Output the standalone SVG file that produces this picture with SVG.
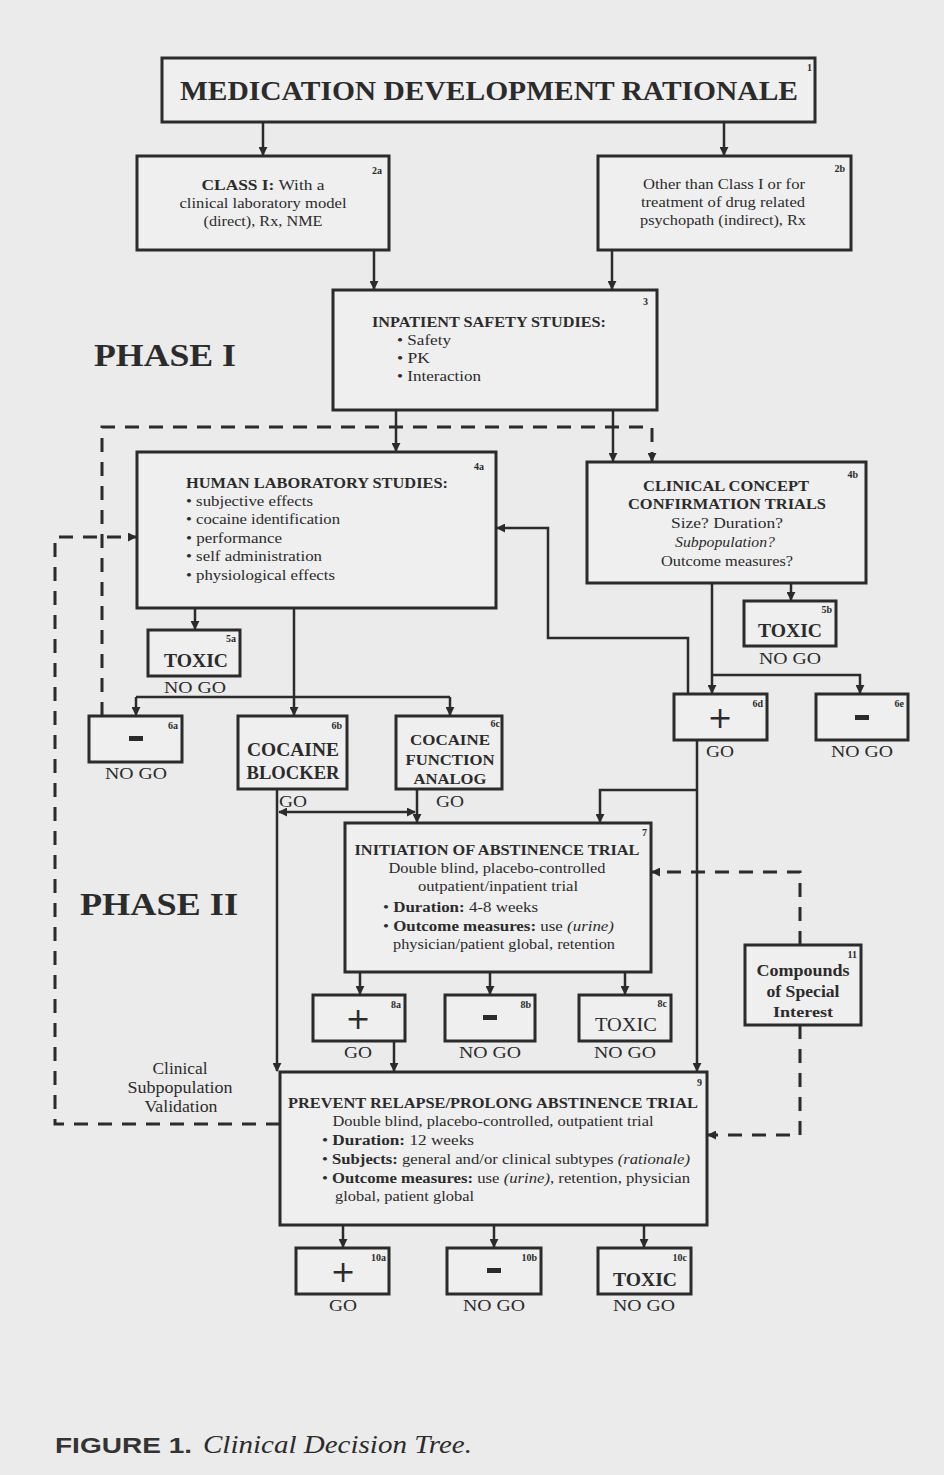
<svg xmlns="http://www.w3.org/2000/svg" width="944" height="1475" viewBox="0 0 944 1475">
<defs>
<marker id="ah" viewBox="0 0 10 10" refX="9" refY="5" markerWidth="9" markerHeight="9" markerUnits="userSpaceOnUse" orient="auto-start-reverse">
<path d="M0,0 L10,5 L0,10 Z" fill="#2b2b2b"/>
</marker>
<style>
.bx{fill:#efefef;stroke:#2b2b2b;stroke-width:3}
.t{font-family:"Liberation Serif","Times New Roman",serif;fill:#2b2b2b}
.c{text-anchor:middle}
.b{font-weight:bold}
.s{font-size:15px}
.n{font-size:10px;font-weight:bold;text-anchor:end}
.big{font-size:18px;font-weight:bold;text-anchor:middle}
.lbl{font-size:17px;text-anchor:middle}
.ln{fill:none;stroke:#2b2b2b;stroke-width:2.5}
.dl{fill:none;stroke:#2b2b2b;stroke-width:3;stroke-dasharray:14 10}
.sym{font-family:"DejaVu Sans",sans-serif;fill:#2b2b2b;text-anchor:middle;font-size:30px}
</style>
</defs>
<rect width="944" height="1475" fill="#ebebeb"/>

<g id="connectors">
<path class="ln" d="M263,122 V155" marker-end="url(#ah)"/>
<path class="ln" d="M724,122 V155" marker-end="url(#ah)"/>
<path class="ln" d="M374,250 V289" marker-end="url(#ah)"/>
<path class="ln" d="M612,250 V289" marker-end="url(#ah)"/>
<path class="ln" d="M396,410 V451" marker-end="url(#ah)"/>
<path class="ln" d="M613,410 V461" marker-end="url(#ah)"/>
<path class="ln" d="M195,608 V629" marker-end="url(#ah)"/>
<path class="ln" d="M294,608 V715" marker-end="url(#ah)"/>
<path class="ln" d="M136,697 H450"/>
<path class="ln" d="M136,697 V715" marker-end="url(#ah)"/>
<path class="ln" d="M450,697 V715" marker-end="url(#ah)"/>
<path class="ln" d="M791,583 V600" marker-end="url(#ah)"/>
<path class="ln" d="M712,583 V693" marker-end="url(#ah)"/>
<path class="ln" d="M712,675 H860 V693" marker-end="url(#ah)"/>
<path class="ln" d="M688,694 V638 H548 V528 H497" marker-end="url(#ah)"/>
<path class="ln" d="M697,740 V1071" marker-end="url(#ah)"/>
<path class="ln" d="M697,790 H600 V822" marker-end="url(#ah)"/>
<path class="ln" d="M277,789 V1071" marker-end="url(#ah)"/>
<path class="ln" d="M417,789 V822" marker-end="url(#ah)"/>
<path class="ln" d="M279,812 H415" marker-start="url(#ah)" marker-end="url(#ah)"/>
<path class="ln" d="M360,972 V994" marker-end="url(#ah)"/>
<path class="ln" d="M490,972 V994" marker-end="url(#ah)"/>
<path class="ln" d="M625,972 V994" marker-end="url(#ah)"/>
<path class="ln" d="M394,1041 V1071" marker-end="url(#ah)"/>
<path class="ln" d="M343,1225 V1247" marker-end="url(#ah)"/>
<path class="ln" d="M494,1225 V1247" marker-end="url(#ah)"/>
<path class="ln" d="M644,1225 V1247" marker-end="url(#ah)"/>
<path class="dl" d="M280,1124 H55 V537 H136" marker-end="url(#ah)"/>
<path class="dl" d="M102,716 V427 H652 V461" marker-end="url(#ah)"/>
<path class="dl" d="M800,945 V872 H652" marker-end="url(#ah)"/>
<path class="dl" d="M800,1025 V1135 H708" marker-end="url(#ah)"/>
</g>

<g id="n1">
<rect class="bx" x="162" y="58" width="653" height="64"/>
<text class="t b c" x="489" y="100" font-size="28" textLength="618" lengthAdjust="spacingAndGlyphs">MEDICATION DEVELOPMENT RATIONALE</text>
<text class="t n" x="812" y="71">1</text>
</g>
<g id="n2a">
<rect class="bx" x="137" y="156" width="252" height="94"/>
<text class="t s c" x="263" y="190" textLength="123" lengthAdjust="spacingAndGlyphs"><tspan class="b">CLASS I:</tspan>  With a</text>
<text class="t s c" x="263" y="208" textLength="167" lengthAdjust="spacingAndGlyphs">clinical laboratory model</text>
<text class="t s c" x="263" y="226" textLength="119" lengthAdjust="spacingAndGlyphs">(direct), Rx, NME</text>
<text class="t n" x="382" y="174">2a</text>
</g>
<g id="n2b">
<rect class="bx" x="598" y="156" width="253" height="94"/>
<text class="t s c" x="724" y="189" textLength="162" lengthAdjust="spacingAndGlyphs">Other than Class I or for</text>
<text class="t s c" x="723" y="207" textLength="164" lengthAdjust="spacingAndGlyphs">treatment of drug related</text>
<text class="t s c" x="723" y="225" textLength="166" lengthAdjust="spacingAndGlyphs">psychopath (indirect), Rx</text>
<text class="t n" x="845" y="172">2b</text>
</g>
<g id="n3">
<rect class="bx" x="333" y="290" width="324" height="120"/>
<text class="t b" x="372" y="327" font-size="14" textLength="234" lengthAdjust="spacingAndGlyphs">INPATIENT SAFETY STUDIES:</text>
<text class="t s" x="397" y="345" textLength="54" lengthAdjust="spacingAndGlyphs">• Safety</text>
<text class="t s" x="397" y="363" textLength="33" lengthAdjust="spacingAndGlyphs">• PK</text>
<text class="t s" x="397" y="381" textLength="84" lengthAdjust="spacingAndGlyphs">• Interaction</text>
<text class="t n" x="648" y="305">3</text>
</g>
<text class="t b" x="94" y="366" font-size="32" textLength="142" lengthAdjust="spacingAndGlyphs">PHASE I</text>
<g id="n4a">
<rect class="bx" x="137" y="452" width="359" height="156"/>
<text class="t b" x="186" y="488" font-size="14" textLength="262" lengthAdjust="spacingAndGlyphs">HUMAN LABORATORY STUDIES:</text>
<text class="t s" x="186" y="506" textLength="127" lengthAdjust="spacingAndGlyphs">• subjective effects</text>
<text class="t s" x="186" y="524" textLength="154" lengthAdjust="spacingAndGlyphs">• cocaine identification</text>
<text class="t s" x="186" y="543" textLength="96" lengthAdjust="spacingAndGlyphs">• performance</text>
<text class="t s" x="186" y="561" textLength="136" lengthAdjust="spacingAndGlyphs">• self administration</text>
<text class="t s" x="186" y="580" textLength="149" lengthAdjust="spacingAndGlyphs">• physiological effects</text>
<text class="t n" x="484" y="470">4a</text>
</g>
<g id="n4b">
<rect class="bx" x="587" y="462" width="279" height="121"/>
<text class="t b c" x="726" y="491" font-size="15" textLength="166" lengthAdjust="spacingAndGlyphs">CLINICAL CONCEPT</text>
<text class="t b c" x="727" y="509" font-size="15" textLength="198" lengthAdjust="spacingAndGlyphs">CONFIRMATION TRIALS</text>
<text class="t s c" x="727" y="528" textLength="112" lengthAdjust="spacingAndGlyphs">Size?  Duration?</text>
<text class="t s c" x="725" y="547" font-style="italic" textLength="100" lengthAdjust="spacingAndGlyphs">Subpopulation?</text>
<text class="t s c" x="727" y="566" textLength="132" lengthAdjust="spacingAndGlyphs">Outcome measures?</text>
<text class="t n" x="858" y="478">4b</text>
</g>
<g id="n5a">
<rect class="bx" x="148" y="630" width="92" height="46"/>
<text class="t big" x="196" y="667" textLength="64" lengthAdjust="spacingAndGlyphs">TOXIC</text>
<text class="t n" x="236" y="642">5a</text>
<text class="t lbl" x="195" y="693" textLength="62" lengthAdjust="spacingAndGlyphs">NO GO</text>
</g>
<g id="n5b">
<rect class="bx" x="744" y="601" width="92" height="45"/>
<text class="t big" x="790" y="637" textLength="64" lengthAdjust="spacingAndGlyphs">TOXIC</text>
<text class="t n" x="832" y="613">5b</text>
<text class="t lbl" x="790" y="664" textLength="62" lengthAdjust="spacingAndGlyphs">NO GO</text>
</g>
<g id="n6a">
<rect class="bx" x="89" y="716" width="93" height="46"/>
<rect x="129" y="736" width="14" height="5" fill="#2b2b2b"/>
<text class="t n" x="178" y="729">6a</text>
<text class="t lbl" x="136" y="779" textLength="62" lengthAdjust="spacingAndGlyphs">NO GO</text>
</g>
<g id="n6b">
<rect class="bx" x="238" y="716" width="109" height="73"/>
<text class="t big" x="293" y="756" textLength="92" lengthAdjust="spacingAndGlyphs">COCAINE</text>
<text class="t big" x="293" y="779" textLength="93" lengthAdjust="spacingAndGlyphs">BLOCKER</text>
<text class="t n" x="342" y="729">6b</text>
<text class="t lbl" x="293" y="807" textLength="28" lengthAdjust="spacingAndGlyphs">GO</text>
</g>
<g id="n6c">
<rect class="bx" x="396" y="716" width="106" height="73"/>
<text class="t b c" x="450" y="745" font-size="15" textLength="80" lengthAdjust="spacingAndGlyphs">COCAINE</text>
<text class="t b c" x="450" y="765" font-size="15" textLength="89" lengthAdjust="spacingAndGlyphs">FUNCTION</text>
<text class="t b c" x="450" y="784" font-size="15" textLength="73" lengthAdjust="spacingAndGlyphs">ANALOG</text>
<text class="t n" x="500" y="727">6c</text>
<text class="t lbl" x="450" y="807" textLength="28" lengthAdjust="spacingAndGlyphs">GO</text>
</g>
<g id="n6d">
<rect class="bx" x="674" y="694" width="93" height="46"/>
<text class="sym" x="720" y="728">+</text>
<text class="t n" x="763" y="707">6d</text>
<text class="t lbl" x="720" y="757" textLength="28" lengthAdjust="spacingAndGlyphs">GO</text>
</g>
<g id="n6e">
<rect class="bx" x="816" y="694" width="92" height="46"/>
<rect x="855" y="715" width="14" height="5" fill="#2b2b2b"/>
<text class="t n" x="904" y="707">6e</text>
<text class="t lbl" x="862" y="757" textLength="62" lengthAdjust="spacingAndGlyphs">NO GO</text>
</g>
<text class="t b" x="80" y="915" font-size="32" textLength="158" lengthAdjust="spacingAndGlyphs">PHASE II</text>
<g id="n7">
<rect class="bx" x="345" y="823" width="306" height="149"/>
<text class="t b c" x="497" y="855" font-size="14" textLength="285" lengthAdjust="spacingAndGlyphs">INITIATION OF ABSTINENCE TRIAL</text>
<text class="t s c" x="497" y="873" textLength="217" lengthAdjust="spacingAndGlyphs">Double blind, placebo-controlled</text>
<text class="t s c" x="498" y="891" textLength="160" lengthAdjust="spacingAndGlyphs">outpatient/inpatient trial</text>
<text class="t s" x="383" y="912" textLength="155" lengthAdjust="spacingAndGlyphs">• <tspan class="b">Duration:</tspan>  4-8 weeks</text>
<text class="t s" x="383" y="931" textLength="231" lengthAdjust="spacingAndGlyphs">• <tspan class="b">Outcome measures:</tspan>  use <tspan font-style="italic">(urine)</tspan></text>
<text class="t s" x="393" y="949" textLength="222" lengthAdjust="spacingAndGlyphs">physician/patient global, retention</text>
<text class="t n" x="647" y="836">7</text>
</g>
<g id="n8a">
<rect class="bx" x="313" y="995" width="92" height="46"/>
<text class="sym" x="358" y="1029">+</text>
<text class="t n" x="401" y="1008">8a</text>
<text class="t lbl" x="358" y="1058" textLength="28" lengthAdjust="spacingAndGlyphs">GO</text>
</g>
<g id="n8b">
<rect class="bx" x="445" y="995" width="90" height="46"/>
<rect x="483" y="1015" width="14" height="5" fill="#2b2b2b"/>
<text class="t n" x="531" y="1008">8b</text>
<text class="t lbl" x="490" y="1058" textLength="62" lengthAdjust="spacingAndGlyphs">NO GO</text>
</g>
<g id="n8c">
<rect class="bx" x="579" y="995" width="92" height="46"/>
<text class="t c" x="626" y="1031" font-size="19" textLength="62" lengthAdjust="spacingAndGlyphs">TOXIC</text>
<text class="t n" x="667" y="1007">8c</text>
<text class="t lbl" x="625" y="1058" textLength="62" lengthAdjust="spacingAndGlyphs">NO GO</text>
</g>
<g id="n11">
<rect class="bx" x="745" y="945" width="116" height="80"/>
<text class="t b c" x="803" y="976" font-size="16" textLength="93" lengthAdjust="spacingAndGlyphs">Compounds</text>
<text class="t b c" x="803" y="997" font-size="16" textLength="73" lengthAdjust="spacingAndGlyphs">of Special</text>
<text class="t b c" x="803" y="1017" font-size="14" textLength="60" lengthAdjust="spacingAndGlyphs">Interest</text>
<text class="t n" x="857" y="958">11</text>
</g>
<text class="t lbl" x="180" y="1074" textLength="55" lengthAdjust="spacingAndGlyphs">Clinical</text>
<text class="t lbl" x="180" y="1093" textLength="105" lengthAdjust="spacingAndGlyphs">Subpopulation</text>
<text class="t lbl" x="181" y="1112" textLength="73" lengthAdjust="spacingAndGlyphs">Validation</text>
<g id="n9">
<rect class="bx" x="280" y="1072" width="427" height="153"/>
<text class="t b c" x="493" y="1108" font-size="14" textLength="410" lengthAdjust="spacingAndGlyphs">PREVENT RELAPSE/PROLONG ABSTINENCE TRIAL</text>
<text class="t s c" x="493" y="1126" textLength="321" lengthAdjust="spacingAndGlyphs">Double blind, placebo-controlled, outpatient trial</text>
<text class="t s" x="322" y="1145" textLength="152" lengthAdjust="spacingAndGlyphs">• <tspan class="b">Duration:</tspan>  12 weeks</text>
<text class="t s" x="322" y="1164" textLength="368" lengthAdjust="spacingAndGlyphs">• <tspan class="b">Subjects:</tspan>  general and/or clinical subtypes <tspan font-style="italic">(rationale)</tspan></text>
<text class="t s" x="322" y="1183" textLength="368" lengthAdjust="spacingAndGlyphs">• <tspan class="b">Outcome measures:</tspan>  use <tspan font-style="italic">(urine)</tspan>, retention, physician</text>
<text class="t s" x="335" y="1201" textLength="139" lengthAdjust="spacingAndGlyphs">global, patient global</text>
<text class="t n" x="702" y="1086">9</text>
</g>
<g id="n10a">
<rect class="bx" x="296" y="1248" width="93" height="46"/>
<text class="sym" x="343" y="1282">+</text>
<text class="t n" x="386" y="1261">10a</text>
<text class="t lbl" x="343" y="1311" textLength="28" lengthAdjust="spacingAndGlyphs">GO</text>
</g>
<g id="n10b">
<rect class="bx" x="447" y="1248" width="94" height="46"/>
<rect x="487" y="1268" width="14" height="5" fill="#2b2b2b"/>
<text class="t n" x="537" y="1261">10b</text>
<text class="t lbl" x="494" y="1311" textLength="62" lengthAdjust="spacingAndGlyphs">NO GO</text>
</g>
<g id="n10c">
<rect class="bx" x="598" y="1248" width="93" height="46"/>
<text class="t big" x="645" y="1286" textLength="64" lengthAdjust="spacingAndGlyphs">TOXIC</text>
<text class="t n" x="687" y="1261">10c</text>
<text class="t lbl" x="644" y="1311" textLength="62" lengthAdjust="spacingAndGlyphs">NO GO</text>
</g>
<text x="55" y="1453" font-family="Liberation Sans, Arial, sans-serif" font-weight="bold" font-size="22" fill="#333" textLength="137" lengthAdjust="spacingAndGlyphs">FIGURE 1.</text>
<text class="t" x="203" y="1453" font-size="25" font-style="italic" fill="#333" textLength="269" lengthAdjust="spacingAndGlyphs">Clinical Decision Tree.</text>
</svg>
